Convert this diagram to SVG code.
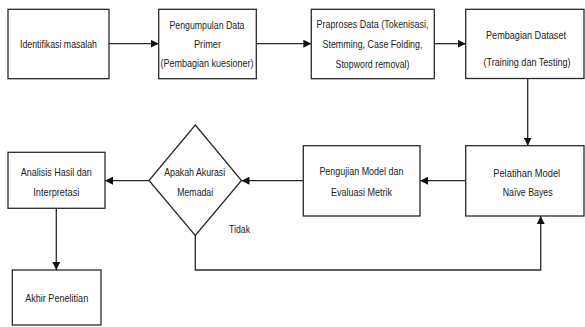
<svg xmlns="http://www.w3.org/2000/svg" width="585" height="327" viewBox="0 0 585 327">
<defs>
<marker id="arr" markerUnits="userSpaceOnUse" markerWidth="8" markerHeight="8" refX="8" refY="4" orient="auto">
<path d="M0,0 L8,4 L0,8 z" fill="#111"/>
</marker>
<style>
.box{fill:#fff;stroke:#2a2a2a;stroke-width:1.3}
.t{font-family:"Liberation Sans Narrow","Liberation Sans",Arial,sans-serif;font-size:11.5px;fill:#222;text-anchor:middle}
.c{fill:none;stroke:#2a2a2a;stroke-width:1.3}
.ca{fill:none;stroke:#2a2a2a;stroke-width:1.3;marker-end:url(#arr)}
</style>
</defs>
<rect width="585" height="327" fill="#fff"/>
<g id="connectors">
<line class="ca" x1="109" y1="43.7" x2="158.7" y2="43.7"/>
<line class="ca" x1="256.3" y1="43.7" x2="311.3" y2="43.7"/>
<line class="ca" x1="434.3" y1="43.7" x2="465.7" y2="43.7"/>
<line class="ca" x1="527.7" y1="78.5" x2="527.7" y2="145.7"/>
<line class="ca" x1="465.7" y1="180.7" x2="420" y2="180.7"/>
<line class="ca" x1="303.3" y1="180.7" x2="241.5" y2="180.7"/>
<line class="ca" x1="149" y1="180.7" x2="105" y2="180.7"/>
<line class="ca" x1="56.3" y1="208.3" x2="56.3" y2="270"/>
<polyline class="ca" points="195.3,235.5 195.3,270 540.7,270 540.7,216"/>
<text class="t" x="239.5" y="232.8" textLength="21" lengthAdjust="spacingAndGlyphs">Tidak</text>
</g>
<g id="n1">
<rect class="box" x="8" y="9.3" width="101" height="69.4"/>
<text class="t" x="58.5" y="47.8" textLength="77" lengthAdjust="spacingAndGlyphs">Identifikasi masalah</text>
</g>
<g id="n2">
<rect class="box" x="158.7" y="9.3" width="97.6" height="69.4"/>
<text class="t" x="207" y="29" textLength="75" lengthAdjust="spacingAndGlyphs">Pengumpulan Data</text>
<text class="t" x="207.5" y="48" textLength="27" lengthAdjust="spacingAndGlyphs">Primer</text>
<text class="t" x="207" y="67" textLength="93" lengthAdjust="spacingAndGlyphs">(Pembagian kuesioner)</text>
</g>
<g id="n3">
<rect class="box" x="311.3" y="9.3" width="123" height="69.4"/>
<text class="t" x="372.5" y="28.4" textLength="112" lengthAdjust="spacingAndGlyphs">Praproses Data (Tokenisasi,</text>
<text class="t" x="372.5" y="48" textLength="100" lengthAdjust="spacingAndGlyphs">Stemming, Case Folding,</text>
<text class="t" x="372.5" y="68" textLength="74" lengthAdjust="spacingAndGlyphs">Stopword removal)</text>
</g>
<g id="n4">
<rect class="box" x="465.7" y="9.3" width="118.3" height="69.2"/>
<text class="t" x="526" y="38.5" textLength="80" lengthAdjust="spacingAndGlyphs">Pembagian Dataset</text>
<text class="t" x="527" y="66" textLength="87" lengthAdjust="spacingAndGlyphs">(Training dan Testing)</text>
</g>
<g id="n5">
<rect class="box" x="465.7" y="145.7" width="118.3" height="70.3"/>
<text class="t" x="526.7" y="177.3" textLength="67" lengthAdjust="spacingAndGlyphs">Pelatihan Model</text>
<text class="t" x="527.7" y="195.8" textLength="50" lengthAdjust="spacingAndGlyphs">Naïve Bayes</text>
</g>
<g id="n6">
<rect class="box" x="303.3" y="145.7" width="116.7" height="70.3"/>
<text class="t" x="361.4" y="175" textLength="84" lengthAdjust="spacingAndGlyphs">Pengujian Model dan</text>
<text class="t" x="361.5" y="195.8" textLength="61" lengthAdjust="spacingAndGlyphs">Evaluasi Metrik</text>
</g>
<g id="n7">
<polygon class="box" points="195.3,125 241.5,180.5 195.3,235.5 149,180.5"/>
<text class="t" x="194.7" y="175.8" textLength="61" lengthAdjust="spacingAndGlyphs">Apakah Akurasi</text>
<text class="t" x="195.2" y="195.8" textLength="36" lengthAdjust="spacingAndGlyphs">Memadai</text>
</g>
<g id="n8">
<rect class="box" x="8" y="152.3" width="97" height="56"/>
<text class="t" x="56.2" y="175.8" textLength="71" lengthAdjust="spacingAndGlyphs">Analisis Hasil dan</text>
<text class="t" x="56.3" y="195.8" textLength="46" lengthAdjust="spacingAndGlyphs">Interpretasi</text>
</g>
<g id="n9">
<rect class="box" x="12.3" y="270" width="88.7" height="55"/>
<text class="t" x="56.7" y="301.8" textLength="63" lengthAdjust="spacingAndGlyphs">Akhir Penelitian</text>
</g>
</svg>
